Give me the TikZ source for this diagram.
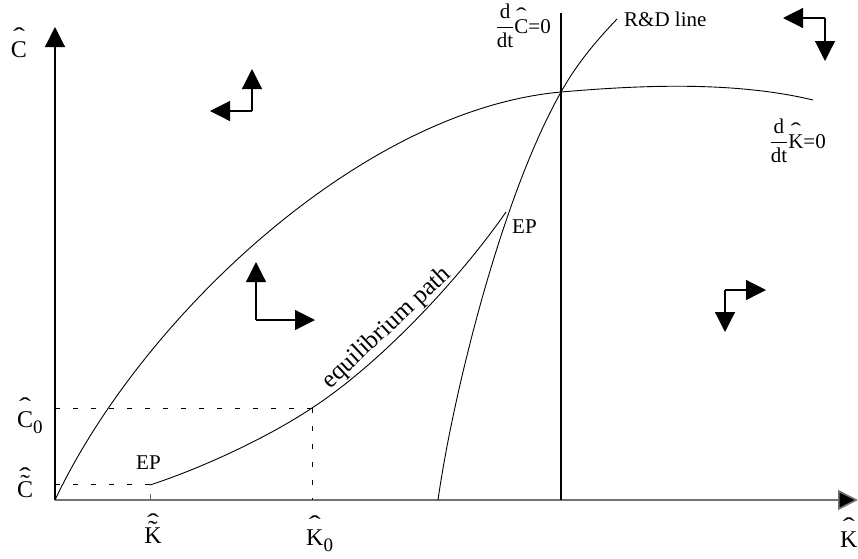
\documentclass[tikz,border=0pt]{standalone}
\usepackage{amsmath}
\usepackage{fontspec}
\setmainfont{Liberation Serif}
\usetikzlibrary{arrows.meta}
\newcommand{\lowsub}[1]{\raisebox{-6pt}{\fontsize{19}{19}\selectfont #1}}
\newcommand{\hatmark}{\scalebox{1.5}[1]{\char"02C6}}
\newcommand{\tilmark}{\scalebox{1.2}[1]{\char"02DC}}
\newcommand{\hatted}[1]{\leavevmode\vbox{\offinterlineskip\halign{\hfil##\hfil\cr\hatmark\cr\noalign{\kern-0.14em}#1\cr}}}
\newcommand{\tilhatted}[1]{\leavevmode\vbox{\offinterlineskip\halign{\hfil##\hfil\cr\hatmark\cr\noalign{\kern-0.36em}\tilmark\cr\noalign{\kern-0.44em}#1\cr}}}
\begin{document}
\begin{tikzpicture}[x=1pt,y=-1pt,
  lbl/.style={inner sep=0pt,font=\fontsize{21}{25}\selectfont},
  big/.style={inner sep=0pt,font=\fontsize{24}{28}\selectfont},
  curve/.style={line width=0.9pt,black},
  tri/.style={-{Triangle[length=20pt,width=20pt]}},
  dirarrow/.style={tri,line width=1.2pt,black},
  guide/.style={line width=0.8pt,dash pattern=on 5pt off 13pt}]
\useasboundingbox (0,0) rectangle (858,558);
% coordinates
\coordinate (O) at (55,500);
\coordinate (ytip) at (55,27);
\coordinate (xtip) at (858,500);
\coordinate (S) at (561,92);
\coordinate (RDb) at (438,500);
\coordinate (RDt) at (617,19);
\coordinate (EPl) at (150,485);
\coordinate (EPu) at (506,212);
\coordinate (P0) at (312,408);
% axes
\draw[line width=1.2pt,black,tri] (O) -- (ytip);
\draw[line width=1.6pt,black!55,-{Triangle[length=20pt,width=20pt,fill=black]}] (O) -- (xtip);
% dK/dt = 0 curve
\draw[curve] (O) .. controls (140,320) and (360,110) .. (S)
  .. controls (631,86) and (730,80) .. (813,100);
% R&D line
\draw[curve] (RDb) .. controls (452,400) and (500,200) .. (S)
  .. controls (579,60) and (600,37) .. (RDt);
% equilibrium path
\draw[curve] (EPl) .. controls (205,467) and (270,436) .. (P0)
  .. controls (384,361) and (463,274) .. (EPu);
% dC/dt = 0 vertical line
\coordinate (vtop) at (561,13);
\coordinate (vbot) at (561,500);
\draw[line width=1.1pt] (vtop) -- (vbot);
% guides
\coordinate (C0) at (55,408);
\coordinate (K0) at (312,500);
\coordinate (Ct) at (55,484);
\coordinate (Pt) at (150,484);
\draw[guide] (C0) -- (P0);
\draw[guide] (P0) -- (K0);
\draw[guide] (Ct) -- (Pt);
\draw[line width=0.8pt,black!60] (150,494) -- (150,500);
% direction arrows
\coordinate (a1) at (252,111);
\draw[dirarrow] (a1) -- (252,69);
\draw[dirarrow] (a1) -- (210,111);
\coordinate (a2) at (256,320);
\draw[dirarrow] (a2) -- (256,262);
\draw[dirarrow] (a2) -- (315,320);
\coordinate (a3) at (725,290);
\draw[dirarrow] (a3) -- (766,290);
\draw[dirarrow] (a3) -- (725,332);
\coordinate (a4) at (825,18);
\draw[dirarrow] (a4) -- (783,18);
\draw[dirarrow] (a4) -- (825,61);
% labels
\node[big,anchor=base] (lC) at (19,57) {\hatted{C}};
\node[big,anchor=base west] (lK) at (840,547) {\hatted{K}};
\node[big,anchor=base west] (lC0) at (17,427) {\hatted{C}\lowsub{0}};
\node[big,anchor=base west] (lCt) at (17,497) {\tilhatted{C}};
\node[big,anchor=base] (lKt) at (153,543) {\tilhatted{K}};
\node[big,anchor=base west] (lK0) at (306,545) {\hatted{K}\lowsub{0}};
\node[lbl,anchor=base west] (ep1) at (512,233) {EP};
\node[lbl,anchor=base west] (ep2) at (136,469) {EP};
\node[lbl,anchor=base west] (rd) at (624,26) {R\&D line};
\node[lbl,anchor=base east] (dC) at (551,33) {$\dfrac{\text{d}}{\text{dt}}$\hatted{C}=0};
\node[lbl,anchor=base east] (dK) at (826,148) {$\dfrac{\text{d}}{\text{dt}}$\hatted{K}=0};
\node[rotate=43,anchor=south,inner sep=2pt,font=\fontsize{25}{29}\selectfont] (eq) at (396,338) {equilibrium path};
\end{tikzpicture}
\end{document}
